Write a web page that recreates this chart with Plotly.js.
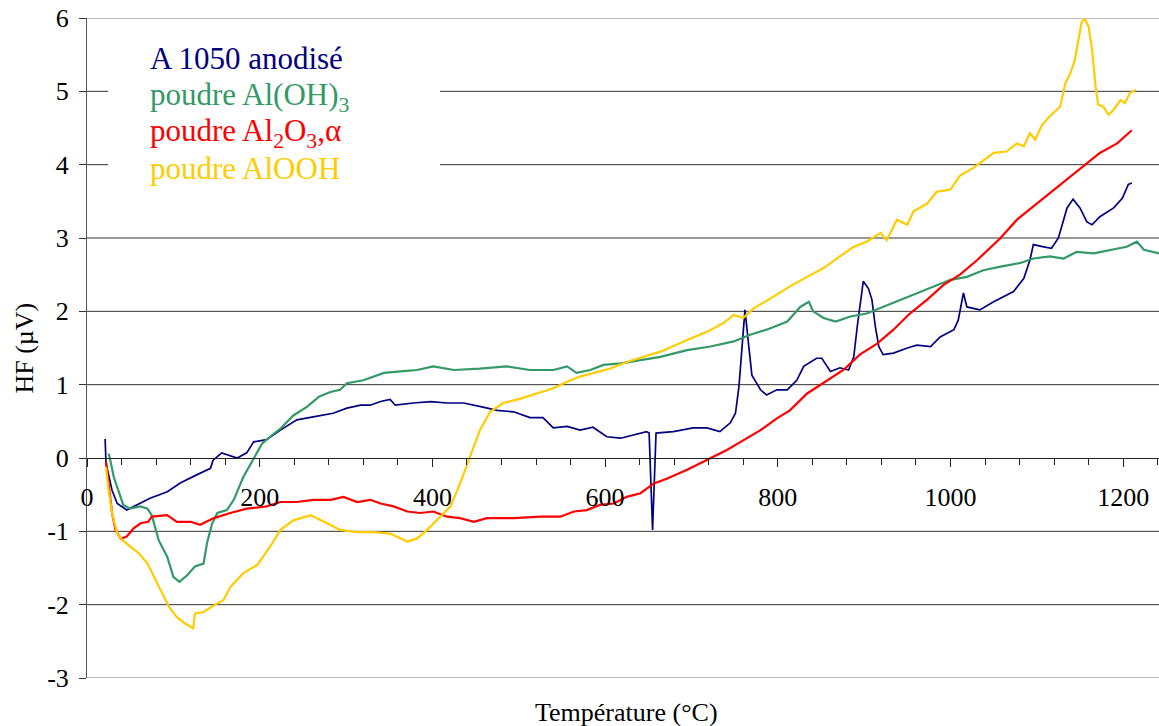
<!DOCTYPE html>
<html><head><meta charset="utf-8">
<script src="https://cdn.plot.ly/plotly-3.0.1.min.js"></script>
<style>html,body{margin:0;padding:0;background:#fff;} #chart{width:1159px;height:726px;}</style>
</head><body><div id="chart"></div>
<script>
// Series labels and colours
const seriesNames = ["A 1050 anodisé", "poudre Al(OH)<sub>3</sub>", "poudre Al<sub>2</sub>O<sub>3</sub>,α", "poudre AlOOH"];
const seriesColors = ["#000080", "#339966", "#FF0000", "#FFCC00"];

// A 1050 anodisé (temperature °C, HF µV)
const blueT = [21,22,29,35,46,58,73,93,108,127,143,146,156,174,185,193,208,224,243,262,285,301,317,328,340,351,357,378,398,417,436,456,475,494,513,528,540,556,571,586,602,618,633,648,651,655,659,679,702,718,733,745,751,755,759,762,766,770,780,787,799,811,822,830,845,851,861,872,882,888,892,899,905,909,913,917,922,934,950,961,977,988,1004,1009,1015,1019,1034,1050,1073,1085,1092,1096,1108,1117,1125,1135,1142,1150,1158,1164,1173,1189,1199,1206,1210];
const blueV = [0.26,-0.07,-0.44,-0.62,-0.71,-0.64,-0.55,-0.46,-0.34,-0.23,-0.14,-0.03,0.07,0.00,0.07,0.22,0.25,0.38,0.52,0.56,0.61,0.68,0.72,0.72,0.77,0.80,0.72,0.75,0.77,0.75,0.75,0.70,0.65,0.63,0.55,0.55,0.41,0.43,0.38,0.42,0.29,0.27,0.31,0.36,0.34,-0.98,0.34,0.36,0.41,0.41,0.36,0.48,0.61,0.97,1.57,2.02,1.57,1.13,0.93,0.86,0.93,0.93,1.06,1.25,1.36,1.36,1.18,1.23,1.20,1.38,1.79,2.41,2.31,2.16,1.79,1.52,1.41,1.43,1.50,1.54,1.52,1.65,1.75,1.88,2.25,2.06,2.02,2.13,2.27,2.45,2.70,2.91,2.88,2.86,3.00,3.41,3.53,3.41,3.22,3.18,3.29,3.41,3.54,3.73,3.75];

// poudre Al(OH)3
const greenT = [25,27,31,37,42,50,62,70,75,83,93,100,107,116,125,135,139,145,151,162,170,181,193,203,212,224,239,255,269,282,293,301,320,344,363,382,401,425,455,486,513,540,556,567,583,598,618,641,664,695,722,749,768,787,811,826,836,841,853,867,884,903,922,942,961,980,1000,1019,1038,1058,1081,1096,1115,1131,1146,1166,1185,1204,1216,1224,1242];
const greenV = [0.06,-0.03,-0.26,-0.48,-0.64,-0.69,-0.66,-0.69,-0.78,-1.12,-1.35,-1.62,-1.69,-1.60,-1.48,-1.44,-1.16,-0.89,-0.75,-0.71,-0.57,-0.26,0.00,0.20,0.29,0.40,0.58,0.70,0.84,0.90,0.93,1.02,1.06,1.16,1.18,1.20,1.25,1.20,1.22,1.25,1.20,1.20,1.25,1.16,1.20,1.27,1.29,1.34,1.38,1.47,1.52,1.59,1.68,1.75,1.86,2.06,2.13,2.00,1.91,1.86,1.93,1.97,2.06,2.16,2.25,2.34,2.43,2.47,2.56,2.61,2.66,2.72,2.75,2.72,2.81,2.79,2.84,2.88,2.95,2.84,2.79];

// poudre Al2O3, alpha
const redT = [22,25,29,33,39,46,54,62,71,75,93,104,120,131,147,166,185,208,224,243,262,282,297,313,328,340,355,371,386,401,417,432,448,463,494,525,548,564,579,594,610,625,641,656,672,695,718,741,757,780,799,814,834,857,876,895,915,934,953,973,992,1011,1031,1058,1077,1096,1115,1135,1154,1173,1193,1210];
const redV = [-0.05,-0.35,-0.75,-0.98,-1.10,-1.07,-0.96,-0.89,-0.87,-0.80,-0.78,-0.87,-0.87,-0.91,-0.82,-0.75,-0.69,-0.66,-0.60,-0.60,-0.57,-0.57,-0.53,-0.60,-0.57,-0.62,-0.66,-0.73,-0.75,-0.73,-0.80,-0.82,-0.87,-0.82,-0.82,-0.80,-0.80,-0.73,-0.71,-0.64,-0.62,-0.53,-0.48,-0.35,-0.28,-0.16,-0.03,0.11,0.22,0.38,0.54,0.65,0.88,1.06,1.20,1.41,1.56,1.75,1.97,2.16,2.36,2.50,2.70,3.00,3.25,3.43,3.61,3.79,3.97,4.16,4.29,4.47];

// poudre AlOOH
const yellowT = [22,25,29,35,41,50,60,70,81,89,95,104,114,123,125,135,147,158,166,181,197,212,224,239,259,278,293,313,332,351,371,382,394,409,421,432,444,455,467,482,502,521,540,556,571,587,606,625,645,664,695,718,737,749,760,772,795,814,834,853,872,888,903,919,926,938,950,957,973,984,1000,1011,1027,1038,1050,1065,1077,1085,1092,1098,1106,1115,1127,1133,1139,1144,1148,1152,1156,1160,1164,1168,1171,1177,1183,1189,1197,1202,1208,1215];
const yellowV = [-0.12,-0.44,-0.75,-1.03,-1.12,-1.21,-1.30,-1.44,-1.69,-1.89,-2.03,-2.17,-2.26,-2.32,-2.12,-2.10,-2.01,-1.94,-1.76,-1.57,-1.46,-1.21,-0.98,-0.85,-0.78,-0.89,-0.98,-1.01,-1.01,-1.03,-1.14,-1.10,-0.98,-0.80,-0.66,-0.35,0.02,0.38,0.63,0.75,0.81,0.88,0.95,1.04,1.11,1.16,1.22,1.31,1.38,1.45,1.61,1.72,1.84,1.95,1.91,2.04,2.20,2.34,2.47,2.59,2.75,2.88,2.95,3.07,2.97,3.25,3.18,3.36,3.47,3.63,3.66,3.85,3.96,4.05,4.16,4.18,4.29,4.25,4.43,4.34,4.54,4.66,4.79,5.11,5.25,5.43,5.70,5.95,5.98,5.88,5.57,5.07,4.82,4.79,4.68,4.75,4.88,4.84,4.98,5.02];

// Tick labels
const xTickVals = [0, 200, 400, 600, 800, 1000, 1200];
const xTickText = ["0", "200", "400", "600", "800", "1000", "1200"];
const yTickVals = [-3, -2, -1, 0, 1, 2, 3, 4, 5, 6];
const yTickText = ["-3", "-2", "-1", "0", "1", "2", "3", "4", "5", "6"];

const xTitle = "Température (°C)";
const yTitle = "HF (µV)";

const FONT = '"Liberation Serif", "Times New Roman", serif';

const seriesData = [[blueT, blueV], [greenT, greenV], [redT, redV], [yellowT, yellowV]];
const widths = [1.7, 2.2, 2.2, 2.2];
const traces = seriesData.map((d, i) => ({
  type: 'scatter', mode: 'lines', x: d[0], y: d[1],
  name: seriesNames[i], line: {color: seriesColors[i], width: widths[i]},
  hoverinfo: 'skip', cliponaxis: true
}));

const legendY = [0.939, 0.881, 0.8253, 0.7723];
const annotations = seriesNames.map((n, i) => ({
  xref: 'paper', yref: 'paper', x: 0.0569, y: legendY[i],
  xanchor: 'left', yanchor: 'middle', showarrow: false,
  text: n, font: {family: FONT, size: 31, color: seriesColors[i]}
}));
annotations.push({
  xref: 'paper', yref: 'paper', x: 0.5033, y: -0.053, xanchor: 'center', yanchor: 'middle',
  showarrow: false, text: xTitle, font: {family: FONT, size: 26, color: '#000'}
});
annotations.push({
  xref: 'paper', yref: 'paper', x: -0.0592, y: 0.5, xanchor: 'center', yanchor: 'middle',
  textangle: -90, showarrow: false, text: yTitle, font: {family: FONT, size: 26, color: '#000'}
});

// Horizontal gridlines; those at 4 and 5 are interrupted behind the legend box
const boxLeft = 0.0196, boxRight = 0.3293;
const gridShapes = [];
yTickVals.forEach(v => {
  const base = {type: 'line', xref: 'paper', yref: 'y', y0: v, y1: v, layer: 'below',
                line: {color: (v === 6 || v === -3) ? '#777' : '#333', width: 1}};
  if (v === 4 || v === 5) {
    gridShapes.push(Object.assign({}, base, {x0: 0, x1: boxLeft}));
    gridShapes.push(Object.assign({}, base, {x0: boxRight, x1: 1}));
  } else if (v !== 0) {
    gridShapes.push(Object.assign({}, base, {x0: 0, x1: 1}));
  }
});

const layout = {
  width: 1159, height: 726,
  margin: {l: 87, r: 0, t: 18, b: 48, pad: 0},
  paper_bgcolor: '#fff', plot_bgcolor: '#fff',
  font: {family: FONT, size: 26, color: '#000'},
  showlegend: false,
  hovermode: false,
  xaxis: {
    range: [0, 1241.5], anchor: 'free', position: 1/3,
    showgrid: false, zeroline: false, showline: true, linecolor: '#222', linewidth: 1,
    ticks: 'outside', ticklen: 8, tickcolor: '#222', tickwidth: 1,
    tickmode: 'array', tickvals: xTickVals, ticktext: xTickText,
    ticklabelstandoff: 8,
    tickfont: {family: FONT, size: 26, color: '#000'},
    minor: {ticks: 'outside', ticklen: 6, tickcolor: '#222', tickmode: 'linear', tick0: 0, dtick: 40, showgrid: false},
    fixedrange: true
  },
  yaxis: {
    range: [-3, 6], domain: [0, 1],
    showgrid: false,
    zeroline: false, showline: true, linecolor: '#555', linewidth: 1,
    ticks: 'outside', ticklen: 7, tickcolor: '#333',
    tickmode: 'array', tickvals: yTickVals, ticktext: yTickText,
    ticklabelstandoff: 5,
    tickfont: {family: FONT, size: 26, color: '#000'},
    fixedrange: true
  },
  shapes: gridShapes,
  annotations: annotations
};

Plotly.newPlot('chart', traces, layout, {staticPlot: true, displayModeBar: false});
</script>
</body></html>
